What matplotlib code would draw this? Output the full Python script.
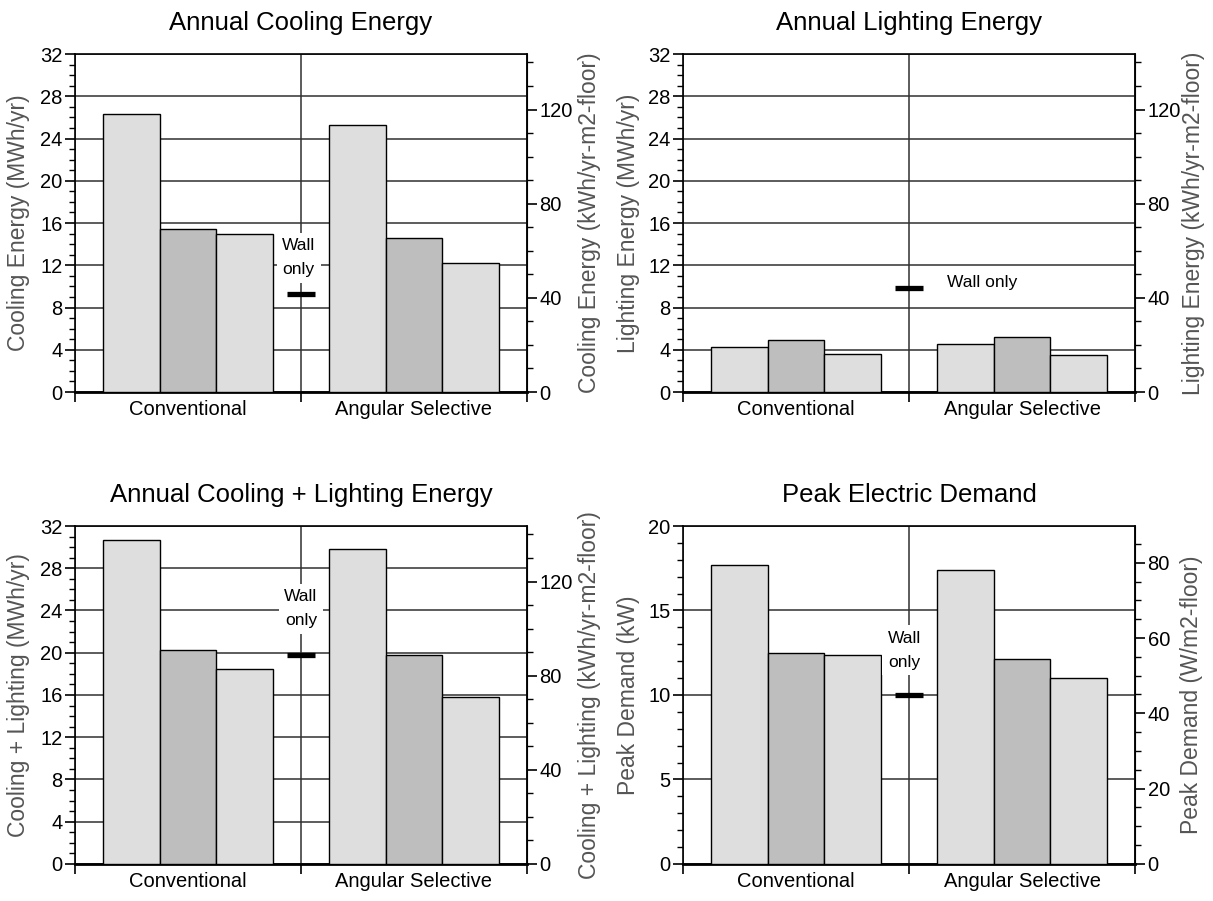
import numpy as np
import matplotlib
matplotlib.use('Agg')
import matplotlib.pyplot as plt
from matplotlib.ticker import MultipleLocator, FixedLocator, NullFormatter

plt.rcParams['font.family'] = ['Liberation Sans', 'DejaVu Sans']

categories = ['Conventional', 'Angular Selective']

# three bars per group, MWh/yr (or kW for peak)
cooling_conv = [26.35, 15.42, 14.97]
cooling_as = [25.28, 14.63, 12.26]
cooling_wall = 9.25

lighting_conv = [4.23, 4.89, 3.56]
lighting_as = [4.54, 5.17, 3.53]
lighting_wall = 9.86

total_conv = [30.64, 20.27, 18.44]
total_as = [29.85, 19.83, 15.85]
total_wall = 19.77

peak_conv = [17.69, 12.47, 12.39]
peak_as = [17.40, 12.12, 10.98]
peak_wall = 9.97

# right axis = left axis * per-floor-area factor
area_factor = 4.487

bar_colors = ['#dedede', '#bebebe', '#dedede']
label_gray = '#555555'


def drawPanel(ax, title, conv, ang, wall, ymax, ystep, ylab, rlab, rmaj, rmin,
              walltext, wallpos, wallstyle, lx, rx):
    width = 0.25
    offs = [-0.25, 0.0, 0.25]
    for gi, vals in enumerate([conv, ang]):
        for i in range(3):
            ax.bar(gi + 0.5 + offs[i], vals[i], width, color=bar_colors[i],
                   edgecolor='black', linewidth=1.0, zorder=3)
    # wall only marker
    ax.plot([0.937, 1.063], [wall, wall], color='black', lw=3.8,
            solid_capstyle='butt', zorder=5)
    if wallstyle == 'box':
        ax.text(wallpos[0], wallpos[1], walltext, ha='center', va='center', fontsize=12.5,
                linespacing=1.75, zorder=4,
                bbox=dict(facecolor='white', edgecolor='none', pad=4))
    else:
        ax.text(wallpos[0], wallpos[1], walltext, ha='left', va='center', fontsize=12.5, zorder=4)

    ax.set_xlim(0, 2)
    ax.set_ylim(0, ymax)
    ax.yaxis.set_major_locator(MultipleLocator(ystep))
    ax.yaxis.set_minor_locator(MultipleLocator(1))
    ax.xaxis.set_major_locator(FixedLocator([0, 1, 2]))
    ax.xaxis.set_major_formatter(NullFormatter())
    ax.xaxis.set_minor_locator(FixedLocator([0.5, 1.5]))
    ax.set_xticklabels(categories, minor=True)
    ax.tick_params(axis='x', which='minor', length=0, labelsize=14.5, pad=6)
    ax.tick_params(axis='x', which='major', length=7, width=1.2, direction='out')
    ax.tick_params(axis='y', which='major', length=7, width=1.2, labelsize=14.5, pad=2)
    ax.tick_params(axis='y', which='minor', length=4, width=1.0)
    ax.grid(True, axis='y', which='major', color='#303030', lw=1.1, zorder=0)
    ax.grid(True, axis='x', which='major', color='#303030', lw=1.1, zorder=0)
    for s in ax.spines.values():
        s.set_linewidth(1.2)
    ax.spines['bottom'].set_linewidth(2.0)
    ax.set_title(title, fontsize=18.5, pad=17)
    ax.set_ylabel(ylab, fontsize=16.5, color=label_gray)
    ax.yaxis.set_label_coords(lx, 0.5)

    sec = ax.secondary_yaxis('right', functions=(lambda y: y * area_factor, lambda y: y / area_factor))
    sec.yaxis.set_major_locator(MultipleLocator(rmaj))
    sec.yaxis.set_minor_locator(MultipleLocator(rmin))
    sec.tick_params(axis='y', which='major', length=7, width=1.2, labelsize=14.5, pad=2)
    sec.tick_params(axis='y', which='minor', length=4, width=1.0)
    ax.text(rx, 0.5, rlab, transform=ax.transAxes, rotation=90, ha='center', va='center',
            fontsize=16.5, color=label_gray, clip_on=False)


fig = plt.figure(figsize=(12.13, 9.01), dpi=100)
ax1 = fig.add_axes([0.0618, 0.5649, 0.3726, 0.3751])
ax2 = fig.add_axes([0.5631, 0.5649, 0.3726, 0.3751])
ax3 = fig.add_axes([0.0618, 0.0411, 0.3726, 0.3751])
ax4 = fig.add_axes([0.5631, 0.0411, 0.3726, 0.3751])

drawPanel(ax1, 'Annual Cooling Energy', cooling_conv, cooling_as, cooling_wall, 32, 4,
          'Cooling Energy (MWh/yr)', 'Cooling Energy (kWh/yr-m2-floor)', 40, 10,
          'Wall\nonly', (0.99, 12.7), 'box', -0.1, 1.139)
drawPanel(ax2, 'Annual Lighting Energy', lighting_conv, lighting_as, lighting_wall, 32, 4,
          'Lighting Energy (MWh/yr)', 'Lighting Energy (kWh/yr-m2-floor)', 40, 10,
          'Wall only', (1.168, 10.4), 'plain', -0.095, 1.13)
drawPanel(ax3, 'Annual Cooling + Lighting Energy', total_conv, total_as, total_wall, 32, 4,
          'Cooling + Lighting (MWh/yr)', 'Cooling + Lighting (kWh/yr-m2-floor)', 40, 10,
          'Wall\nonly', (1.0, 24.15), 'box', -0.1, 1.139)
drawPanel(ax4, 'Peak Electric Demand', peak_conv, peak_as, peak_wall, 20, 5,
          'Peak Demand (kW)', 'Peak Demand (W/m2-floor)', 20, 5,
          'Wall\nonly', (0.98, 12.66), 'box', -0.095, 1.126)

fig.savefig('out.png', dpi=100)
